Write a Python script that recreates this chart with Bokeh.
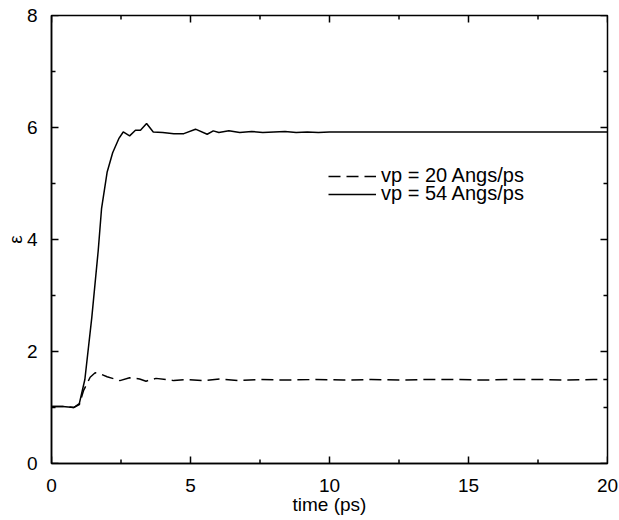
import math
from bokeh.plotting import figure
from bokeh.models import FixedTicker, Range1d, Legend, LegendItem
from bokeh.embed import file_html
from bokeh.resources import INLINE

# vp = 54 Angs/ps (solid)
t_fast = [0.0, 0.4, 0.8, 1.0, 1.2, 1.45, 1.68, 1.8, 2.0, 2.2, 2.42, 2.58, 2.81,
          3.02, 3.2, 3.42, 3.66, 4.0, 4.4, 4.76, 5.18, 5.6, 5.82, 6.02, 6.38,
          6.77, 7.2, 7.6, 8.0, 8.4, 8.8, 9.2, 9.6, 10.0, 11.0, 12.0, 13.0,
          14.0, 15.0, 16.0, 17.0, 18.0, 19.0, 20.0]
eps_fast = [1.02, 1.02, 1.00, 1.07, 1.50, 2.61, 3.80, 4.55, 5.20, 5.55, 5.80,
            5.92, 5.85, 5.95, 5.95, 6.07, 5.92, 5.91, 5.89, 5.89, 5.97, 5.88,
            5.94, 5.91, 5.94, 5.91, 5.93, 5.91, 5.92, 5.93, 5.91, 5.92, 5.91,
            5.92, 5.92, 5.92, 5.92, 5.92, 5.92, 5.92, 5.92, 5.92, 5.92, 5.92]

# vp = 20 Angs/ps (dashed)
t_slow = [0.0, 0.4, 0.8, 1.0, 1.15, 1.39, 1.57, 1.75, 2.0, 2.46, 2.81, 3.17,
          3.4, 3.76, 4.4, 4.9, 5.5, 6.1, 6.7, 7.5, 8.5, 9.5, 10.5, 11.5, 12.5,
          13.5, 14.5, 15.5, 16.5, 17.5, 18.5, 19.5, 20.0]
eps_slow = [1.02, 1.02, 1.00, 1.05, 1.30, 1.54, 1.62, 1.60, 1.55, 1.48, 1.53,
            1.51, 1.47, 1.52, 1.48, 1.50, 1.48, 1.51, 1.48, 1.50, 1.49, 1.50,
            1.49, 1.50, 1.49, 1.50, 1.50, 1.49, 1.50, 1.50, 1.49, 1.50, 1.50]

x_major = [0, 5, 10, 15, 20]
x_minor = [2.5, 7.5, 12.5, 17.5]
y_major = [0, 2, 4, 6, 8]
y_minor = [1, 3, 5, 7]

labels = ["vp = 20 Angs/ps", "vp = 54 Angs/ps"]
x_label = "time (ps)"
y_label = "ε"

FONT = "Liberation Sans"
X0, X1 = x_major[0], x_major[-1]
Y0, Y1 = y_major[0], y_major[-1]

p = figure(width=619, height=520, output_backend="svg", toolbar_location=None,
           x_range=Range1d(X0, X1), y_range=Range1d(Y0, Y1),
           min_border_left=51, min_border_right=12, min_border_top=15,
           min_border_bottom=57)
p.xgrid.visible = False
p.ygrid.visible = False
p.outline_line_color = "black"
p.outline_line_width = 1.5
p.background_fill_color = "white"
p.border_fill_color = "white"

for ax, ticks in ((p.xaxis[0], x_major), (p.yaxis[0], y_major)):
    ax.ticker = FixedTicker(ticks=ticks)
    ax.axis_line_color = "black"
    ax.axis_line_width = 1.5
    ax.major_tick_in = 0
    ax.major_tick_out = 0
    ax.minor_tick_in = 0
    ax.minor_tick_out = 0
    ax.major_tick_line_color = None
    ax.minor_tick_line_color = None
    ax.major_label_text_font = FONT
    ax.major_label_text_color = "black"
    ax.major_label_text_font_size = "19px"
    ax.axis_label_text_font = FONT
    ax.axis_label_text_font_style = "normal"
    ax.axis_label_text_color = "black"
    ax.axis_label_text_font_size = "19px"

p.xaxis[0].axis_label = x_label
p.yaxis[0].axis_label = y_label
p.xaxis[0].major_label_standoff = 15
p.xaxis[0].axis_label_standoff = -1
p.yaxis[0].major_label_standoff = 14
p.yaxis[0].axis_label_standoff = -2

# inward ticks on all four sides (dash markers clipped by the frame)
tick_style = dict(marker="dash", line_color="black", line_width=1.5)
for vals, size in ((x_major, 14), (x_minor, 8)):
    p.scatter(vals, [Y0] * len(vals), size=size, angle=math.pi / 2, **tick_style)
    p.scatter(vals, [Y1] * len(vals), size=size, angle=math.pi / 2, **tick_style)
for vals, size in ((y_major, 14), (y_minor, 8)):
    p.scatter([X0] * len(vals), vals, size=size, angle=0, **tick_style)
    p.scatter([X1] * len(vals), vals, size=size, angle=0, **tick_style)

r_slow = p.line(t_slow, eps_slow, line_color="black", line_width=1.5,
                line_dash="12 6")
r_fast = p.line(t_fast, eps_fast, line_color="black", line_width=1.5)

leg_common = dict(glyph_width=48, glyph_height=18, label_height=18,
                  label_standoff=5, padding=0, margin=0, spacing=0,
                  border_line_color=None, background_fill_alpha=0,
                  label_text_font=FONT, label_text_font_size="20px",
                  label_text_color="black")
leg1 = Legend(items=[LegendItem(label=labels[0], renderers=[r_slow])],
              location=(277, 276), **leg_common)
leg2 = Legend(items=[LegendItem(label=labels[1], renderers=[r_fast])],
              location=(277, 258), **leg_common)
p.add_layout(leg1)
p.add_layout(leg2)

open("out.html", "w").write(file_html(p, INLINE))
